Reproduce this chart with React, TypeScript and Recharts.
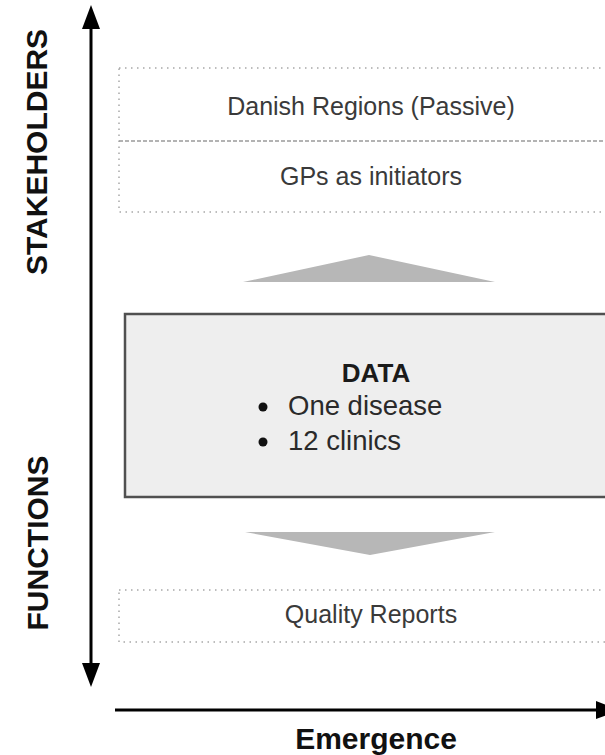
import React from 'react';
import { ComposedChart, XAxis, YAxis, ReferenceArea, ReferenceLine, Scatter } from 'recharts';

// ---- content (texts of the diagram) ----
const stakeholderRows = ['Danish Regions (Passive)', 'GPs as initiators'];
const dataTitle = 'DATA';
const dataItems = ['One disease', '12 clinics'];
const functionRows = ['Quality Reports'];
const verticalAxisLabels = ['STAKEHOLDERS', 'FUNCTIONS'];
const horizontalAxisLabel = 'Emergence';

// ---- layout (diagram coordinates, 1 unit = 1 px) ----
const W = 605;
const H = 755;
const FONT = '"Liberation Sans", Arial, Helvetica, sans-serif';
const rowTextX = 371;
const stakeholderBaselines = [115, 185];
const dataTitlePos = { x: 376, y: 382 };
const dataItemBaselines = [415, 450];
const dataItemTextX = 288;
const dataBulletX = 263;
const functionBaselines = [623];
const verticalLabelPos = [
  { x: 36, y: 152 },
  { x: 37, y: 543 },
];
const horizontalLabelPos = { x: 376, y: 749 };

type TP = { x: number; y: number; label: string; kind: string };

const textPoints: TP[] = [
  ...stakeholderRows.map((t, i) => ({ x: rowTextX, y: stakeholderBaselines[i], label: t, kind: 'row' })),
  { x: dataTitlePos.x, y: dataTitlePos.y, label: dataTitle, kind: 'title' },
  ...dataItems.map((t, i) => ({ x: dataItemTextX, y: dataItemBaselines[i], label: t, kind: 'bullet' })),
  ...functionRows.map((t, i) => ({ x: rowTextX, y: functionBaselines[i], label: t, kind: 'row' })),
  ...verticalAxisLabels.map((t, i) => ({ x: verticalLabelPos[i].x, y: verticalLabelPos[i].y, label: t, kind: 'vaxis' })),
  { x: horizontalLabelPos.x, y: horizontalLabelPos.y, label: horizontalAxisLabel, kind: 'haxis' },
];

const TextShape = (props: any) => {
  const { cx, cy, payload } = props;
  const p = payload as TP;
  if (p.kind === 'row') {
    return (
      <text x={cx} y={cy} textAnchor="middle" fontFamily={FONT} fontSize={25} fill="#3a3a3a">
        {p.label}
      </text>
    );
  }
  if (p.kind === 'title') {
    return (
      <text x={cx} y={cy} textAnchor="middle" fontFamily={FONT} fontSize={26} fontWeight="bold" fill="#1a1a1a">
        {p.label}
      </text>
    );
  }
  if (p.kind === 'bullet') {
    return (
      <g>
        <circle cx={dataBulletX} cy={cy - 8} r={4.5} fill="#111" />
        <text x={cx} y={cy} textAnchor="start" fontFamily={FONT} fontSize={27.5} fill="#2a2a2a">
          {p.label}
        </text>
      </g>
    );
  }
  if (p.kind === 'vaxis') {
    return (
      <text
        x={cx}
        y={cy}
        textAnchor="middle"
        dominantBaseline="central"
        transform={`rotate(-90 ${cx} ${cy})`}
        fontFamily={FONT}
        fontSize={30}
        fontWeight="bold"
        fill="#111"
      >
        {p.label}
      </text>
    );
  }
  return (
    <text x={cx} y={cy} textAnchor="middle" fontFamily={FONT} fontSize={30} fontWeight="bold" fill="#111">
      {p.label}
    </text>
  );
};

const triangle = (dir: 'up' | 'down' | 'right', fill: string) => (props: any) => {
  const { x, y, width, height } = props;
  let pts = '';
  if (dir === 'up') pts = `${x},${y + height} ${x + width / 2},${y} ${x + width},${y + height}`;
  else if (dir === 'down') pts = `${x},${y} ${x + width / 2},${y + height} ${x + width},${y}`;
  else pts = `${x},${y} ${x + width},${y + height / 2} ${x},${y + height}`;
  return <polygon points={pts} fill={fill} stroke="none" />;
};

export default function App() {
  return (
    <div style={{ position: 'absolute', left: 0, top: 0, width: W, height: H, background: '#fff' }}>
      <ComposedChart width={W} height={H} margin={{ top: 0, right: 0, bottom: 0, left: 0 }}>
        <XAxis type="number" dataKey="x" domain={[0, W]} hide allowDataOverflow />
        <YAxis type="number" dataKey="y" domain={[0, H]} reversed hide allowDataOverflow />

        {/* stakeholders dotted box */}
        <ReferenceArea x1={119} x2={660} y1={68} y2={212} ifOverflow="visible" fill="none"
          stroke="#a8a8a8" strokeWidth={1.5} strokeDasharray="1.5 4.5" />
        <ReferenceLine segment={[{ x: 119, y: 141 }, { x: 660, y: 141 }]} ifOverflow="visible"
          stroke="#9a9a9a" strokeWidth={1.5} strokeDasharray="4 2" />

        {/* up arrow (grey) */}
        <ReferenceArea x1={243} x2={495} y1={255} y2={282} ifOverflow="visible" shape={triangle('up', '#b7b7b7')} />

        {/* data box */}
        <ReferenceArea x1={125} x2={660} y1={314} y2={497} ifOverflow="visible" fill="#eeeeee" fillOpacity={1}
          stroke="#505050" strokeWidth={2.5} />

        {/* down arrow (grey) */}
        <ReferenceArea x1={245} x2={495} y1={532} y2={555} ifOverflow="visible" shape={triangle('down', '#b7b7b7')} />

        {/* functions dotted box */}
        <ReferenceArea x1={119} x2={660} y1={590} y2={642} ifOverflow="visible" fill="none"
          stroke="#a8a8a8" strokeWidth={1.5} strokeDasharray="1.5 4.5" />

        {/* vertical axis arrow */}
        <ReferenceLine segment={[{ x: 91, y: 22 }, { x: 91, y: 670 }]} ifOverflow="visible" stroke="#000" strokeWidth={3} />
        <ReferenceArea x1={82} x2={100} y1={5} y2={29} ifOverflow="visible" shape={triangle('up', '#000')} />
        <ReferenceArea x1={82} x2={100} y1={663} y2={687} ifOverflow="visible" shape={triangle('down', '#000')} />

        {/* horizontal axis arrow */}
        <ReferenceLine segment={[{ x: 115, y: 710 }, { x: 600, y: 710 }]} ifOverflow="visible" stroke="#000" strokeWidth={3} />
        <ReferenceArea x1={596} x2={620} y1={701} y2={719} ifOverflow="visible" shape={triangle('right', '#000')} />

        <Scatter data={textPoints} shape={TextShape} isAnimationActive={false} />
      </ComposedChart>
    </div>
  );
}
